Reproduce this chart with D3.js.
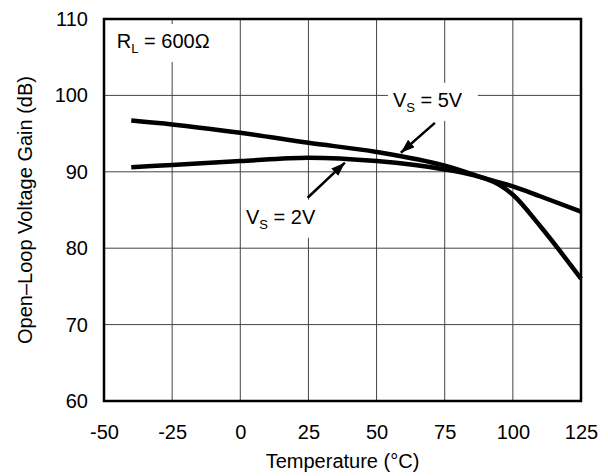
<!DOCTYPE html>
<html>
<head>
<meta charset="utf-8">
<script src="https://cdn.jsdelivr.net/npm/d3@7"></script>
<style>
  body { margin: 0; background: #fff; }
  svg { display: block; }
  text { font-family: "Liberation Sans", Arial, sans-serif; fill: #000; }
</style>
</head>
<body>
<svg id="chart"></svg>
<script>
// temperature points (°C) and gain (dB)
const temps = [-40, -25, 0, 25, 50, 75, 85, 90, 95, 100, 110, 125];
const gain5V = [96.7, 96.2, 95.1, 93.8, 92.6, 90.8, 89.7, 89.1, 88.6, 88.1, 86.8, 84.8];
const gain2V = [90.6, 90.9, 91.4, 91.85, 91.4, 90.3, 89.6, 89.1, 88.3, 87.0, 82.9, 76.0];

const xTicks = [-50, -25, 0, 25, 50, 75, 100, 125];
const yTicks = [60, 70, 80, 90, 100, 110];

const width = 608;
const height = 476;
const margin = { top: 19, right: 27, bottom: 75, left: 104 };

let svg = d3.select("#chart").attr("width", width).attr("height", height);

let x = d3.scaleLinear().domain([-50, 125]).range([margin.left, width - margin.right]);
let y = d3.scaleLinear().domain([60, 110]).range([height - margin.bottom, margin.top]);

// grid
svg.append("g")
    .selectAll("line")
    .data(xTicks)
    .join("line")
    .attr("x1", d => x(d)).attr("x2", d => x(d))
    .attr("y1", y(60)).attr("y2", y(110))
    .attr("stroke", "#444").attr("stroke-width", 1);
svg.append("g")
    .selectAll("line")
    .data(yTicks)
    .join("line")
    .attr("x1", x(-50)).attr("x2", x(125))
    .attr("y1", d => y(d)).attr("y2", d => y(d))
    .attr("stroke", "#444").attr("stroke-width", 1);

// axes (labels only, the frame is drawn below)
let axisX = d3.axisBottom(x).tickValues(xTicks).tickFormat(d => String(d)).tickSize(0).tickPadding(24);
let axisY = d3.axisLeft(y).tickValues(yTicks).tickFormat(d => String(d)).tickSize(0).tickPadding(16);
let gx = svg.append("g").attr("transform", `translate(0, ${y(60)})`).call(axisX);
let gy = svg.append("g").attr("transform", `translate(${x(-50)}, 0)`).call(axisY);
[gx, gy].forEach(g => {
    g.select(".domain").remove();
    g.selectAll("text").style("font-size", "20px").style("font-family", '"Liberation Sans", Arial, sans-serif');
});

svg.append("text")
    .attr("x", (x(-50) + x(125)) / 2)
    .attr("y", 468)
    .attr("text-anchor", "middle")
    .style("font-size", "20px")
    .text("Temperature (°C)");

svg.append("text")
    .attr("transform", `translate(32, ${(y(60) + y(110)) / 2}) rotate(-90)`)
    .attr("text-anchor", "middle")
    .style("font-size", "20px")
    .text("Open–Loop Voltage Gain (dB)");

// labels with white boxes that break the grid
let labels = [
    { main: "R", sub: "L", rest: " = 600Ω", t: -45.3, g: 106.2, padL: 6, padR: 6 },
    { main: "V", sub: "S", rest: " = 5V", t: 56, g: 98.5, padL: 5, padR: 15 },
    { main: "V", sub: "S", rest: " = 2V", t: 2.1, g: 83.2, padL: 3, padR: 6 }
];
let labelLayer = svg.append("g");
labels.forEach(l => {
    let g = labelLayer.append("g");
    let txt = g.append("text")
        .attr("x", x(l.t))
        .attr("y", y(l.g))
        .style("font-size", "20px");
    txt.append("tspan").text(l.main);
    txt.append("tspan").attr("dy", 5).style("font-size", "13px").text(l.sub);
    txt.append("tspan").attr("dy", -5).text(l.rest);
    let bb = txt.node().getBBox();
    g.insert("rect", "text")
        .attr("x", bb.x - l.padL)
        .attr("y", bb.y - 6)
        .attr("width", bb.width + l.padL + l.padR)
        .attr("height", bb.height + 12)
        .attr("fill", "#fff");
});

// curves
let line = d3.line()
    .x((d, i) => x(temps[i]))
    .y(d => y(d))
    .curve(d3.curveMonotoneX);

[gain5V, gain2V].forEach(s => {
    svg.append("path")
        .attr("d", line(s))
        .attr("fill", "none")
        .attr("stroke", "#000")
        .attr("stroke-width", 4.5);
});

// arrows
svg.append("defs").append("marker")
    .attr("id", "head")
    .attr("markerUnits", "userSpaceOnUse")
    .attr("viewBox", "0 0 14 10")
    .attr("refX", 14).attr("refY", 5)
    .attr("markerWidth", 14).attr("markerHeight", 10)
    .attr("orient", "auto")
    .append("path")
    .attr("d", "M0,0 L14,5 L0,10 Z")
    .attr("fill", "#000");

let arrows = [
    { t0: 71.4, g0: 96.4, t1: 58.9, g1: 92.5 },
    { t0: 24.7, g0: 86.6, t1: 38.4, g1: 91.2 }
];
svg.append("g")
    .selectAll("line")
    .data(arrows)
    .join("line")
    .attr("x1", d => x(d.t0)).attr("y1", d => y(d.g0))
    .attr("x2", d => x(d.t1)).attr("y2", d => y(d.g1))
    .attr("stroke", "#000")
    .attr("stroke-width", 2.5)
    .attr("marker-end", "url(#head)");

// frame
svg.append("rect")
    .attr("x", x(-50)).attr("y", y(110))
    .attr("width", x(125) - x(-50))
    .attr("height", y(60) - y(110))
    .attr("fill", "none")
    .attr("stroke", "#000")
    .attr("stroke-width", 2.5);
</script>
</body>
</html>
